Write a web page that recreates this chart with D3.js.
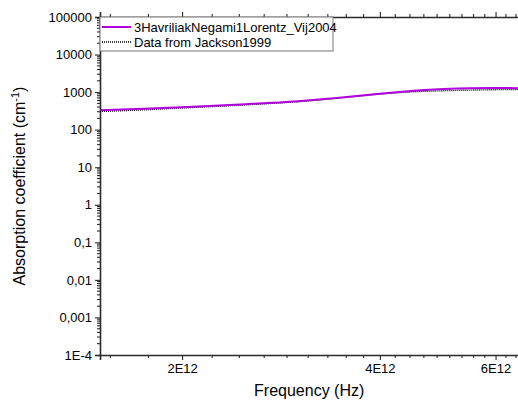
<!DOCTYPE html>
<html>
<head>
<meta charset="utf-8">
<script src="https://cdn.jsdelivr.net/npm/d3@7"></script>
<style>
  body { margin: 0; background: #fff; }
  text { font-family: "Liberation Sans", Arial, sans-serif; fill: #000; }
</style>
</head>
<body>
<svg id="chart" width="518" height="406"></svg>
<script>
// ---- data ----
const freqs = [1.5e12, 1.75e12, 2.0e12, 2.5e12, 3.0e12, 3.5e12, 4.0e12, 4.5e12, 5.0e12, 5.5e12, 6.0e12, 6.5e12];
const modelValues = [330, 362, 398, 478, 575, 715, 900, 1080, 1210, 1275, 1290, 1275];
const jacksonValues = [305, 338, 378, 458, 556, 705, 890, 1020, 1090, 1130, 1160, 1180];
const seriesNames = ["3HavriliakNegami1Lorentz_Vij2004", "Data from Jackson1999"];
const xTickValues = [2e12, 4e12, 6e12];
const xTickLabels = ["2E12", "4E12", "6E12"];
const yTickValues = [1e5, 1e4, 1e3, 1e2, 1e1, 1, 0.1, 0.01, 0.001, 1e-4];
const yTickLabels = ["100000", "10000", "1000", "100", "10", "1", "0,1", "0,01", "0,001", "1E-4"];
const xTitle = "Frequency (Hz)";
const yTitle = "Absorption coefficient (cm";

// ---- layout ----
const pLeft = 100, pTop = 17, pBottom = 355;
const xDomain = [1.5e12, 6.5e12];
const pxPerDecade = 657;
const pRight = pLeft + pxPerDecade * Math.log10(xDomain[1] / xDomain[0]);

const svg = d3.select("#chart");
const x = d3.scaleLog().domain(xDomain).range([pLeft, pRight]);
const y = d3.scaleLog().domain([1e-4, 1e5]).range([pBottom, pTop]);

const axisColor = "#2b2b2b";
const modelColor = "#b000dc";

// minor x ticks: 8 minor between majors (step 2E12/9)
const xMinor = [];
const step = 2e12 / 9;
for (let v = 2e12 - 2 * step; v <= xDomain[1] + 1; v += step) {
  if (v >= xDomain[0] && !xTickValues.some(t => Math.abs(t - v) < 1e9)) xMinor.push(v);
}
// minor y ticks: 2..9 per decade
const yMinor = [];
for (let e = -4; e < 5; e++) for (let k = 2; k <= 9; k++) yMinor.push(k * Math.pow(10, e));

// ---- data lines ----
const line = d3.line().x((d, i) => x(freqs[i])).y(d => y(d)).curve(d3.curveMonotoneX);
svg.append("clipPath").attr("id", "clip").append("rect")
  .attr("x", pLeft).attr("y", pTop).attr("width", pRight - pLeft).attr("height", pBottom - pTop);

svg.append("path").datum(jacksonValues).attr("d", line)
  .attr("fill", "none").attr("stroke", "#000").attr("stroke-width", 1.4)
  .attr("stroke-dasharray", "1,1").attr("clip-path", "url(#clip)");
svg.append("path").datum(modelValues).attr("d", line)
  .attr("fill", "none").attr("stroke", modelColor).attr("stroke-width", 2)
  .attr("clip-path", "url(#clip)");

// ---- axes ----
const g = svg.append("g");
const xb = d3.axisBottom(x).tickValues(xTickValues).tickFormat((d, i) => xTickLabels[i]).tickSizeOuter(0).tickSize(5).tickPadding(4);
const gb = g.append("g").attr("transform", `translate(0,${pBottom})`).call(xb);
gb.append("g").selectAll("line").data(xMinor).join("line")
  .attr("x1", d => x(d)).attr("x2", d => x(d)).attr("y1", 0).attr("y2", 3);
const xt = d3.axisTop(x).tickValues(xTickValues).tickFormat("").tickSizeOuter(0).tickSize(5);
const gt = g.append("g").attr("transform", `translate(0,${pTop})`).call(xt);
gt.append("g").selectAll("line").data(xMinor).join("line")
  .attr("x1", d => x(d)).attr("x2", d => x(d)).attr("y1", 0).attr("y2", -3);
const yl = d3.axisLeft(y).tickValues(yTickValues).tickFormat((d, i) => yTickLabels[i]).tickSizeOuter(0).tickSize(5).tickPadding(3);
const gl = g.append("g").attr("transform", `translate(${pLeft},0)`).call(yl);
gl.append("g").selectAll("line").data(yMinor).join("line")
  .attr("y1", d => y(d)).attr("y2", d => y(d)).attr("x1", 0).attr("x2", -3);

[gb, gt, gl].forEach(a => {
  a.selectAll("path.domain").attr("stroke", axisColor).attr("stroke-width", 1.6);
  a.selectAll("line").attr("stroke", axisColor).attr("stroke-width", 1.1);
  a.selectAll("text").attr("font-size", 13).attr("font-family", "Liberation Sans, Arial, sans-serif").attr("fill", "#000");
});

// ---- titles ----
svg.append("text").attr("x", (pLeft + pRight) / 2).attr("y", 396)
  .attr("text-anchor", "middle").attr("font-size", 16).text(xTitle);
const yt = svg.append("text").attr("transform", `translate(25,${(pTop + pBottom) / 2}) rotate(-90)`)
  .attr("text-anchor", "middle").attr("font-size", 16);
yt.append("tspan").text(yTitle);
yt.append("tspan").attr("font-size", 11).attr("dy", -6).text("-1");
yt.append("tspan").attr("dy", 6).text(")");

// ---- legend ----
const lg = svg.append("g");
lg.append("rect").attr("x", pLeft).attr("y", pTop).attr("width", 233).attr("height", 34)
  .attr("fill", "#fff").attr("stroke", "#777").attr("stroke-width", 1);
lg.append("line").attr("x1", pLeft + 2).attr("x2", pLeft + 31).attr("y1", 27).attr("y2", 27)
  .attr("stroke", modelColor).attr("stroke-width", 2);
lg.append("line").attr("x1", pLeft + 2).attr("x2", pLeft + 31).attr("y1", 42).attr("y2", 42)
  .attr("stroke", "#000").attr("stroke-width", 1.4).attr("stroke-dasharray", "1,1");
lg.append("text").attr("x", pLeft + 34).attr("y", 31.5).attr("font-size", 13).text(seriesNames[0]);
lg.append("text").attr("x", pLeft + 34).attr("y", 46.5).attr("font-size", 13).text(seriesNames[1]);
</script>
</body>
</html>
